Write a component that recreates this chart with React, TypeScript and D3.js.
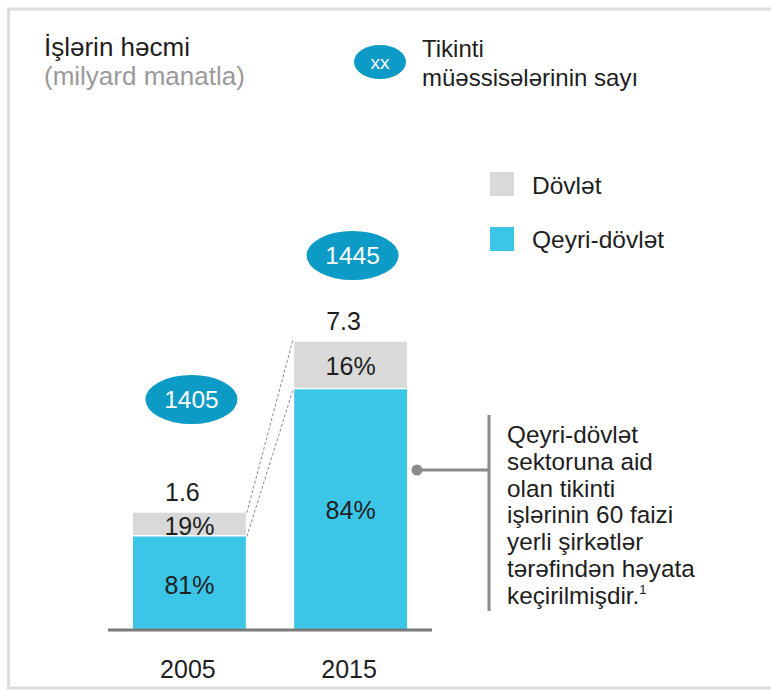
import React from "react";
import * as d3 from "d3";

const years = ["2005", "2015"];
const totals = [1.6, 7.3];
const stateShare = [19, 16];
const privateShare = [81, 84];
const companies = [1405, 1445];
const legendLabels = ["Dövlət", "Qeyri-dövlət"];
const noteLines = [
  "Qeyri-dövlət",
  "sektoruna aid",
  "olan tikinti",
  "işlərinin 60 faizi",
  "yerli şirkətlər",
  "tərəfindən həyata",
  "keçirilmişdir.",
];

const W = 771;
const H = 691;
const FONT = "'Liberation Sans', Arial, sans-serif";
const BLUE = "#3bc6e8";
const GRAY = "#d9d9d9";
const OVAL = "#0c9ac6";
const TEXT = "#1e1e1e";

export default function App() {
  const baseY = 630;
  const x = d3.scaleBand<string>().domain(years).range([133, 407]).paddingInner(0.3).paddingOuter(0);
  const y = d3.scalePow().exponent(0.5925).domain([0, 7.3]).range([baseY, 341.7]);
  const gap = 1.5;

  const bars = years.map((yr, i) => {
    const x0 = x(yr)!;
    const bw = x.bandwidth();
    const top = y(totals[i]);
    const h = baseY - top;
    const stateH = (h * stateShare[i]) / 100;
    const split = top + stateH;
    return { yr, i, x0, bw, top, split, cx: x0 + bw / 2 };
  });

  const ovalY = [399.5, 255.5];
  const stateLabelY = [535, 375];
  const privLabelY = [594, 519];

  return (
    <svg
      width={W}
      height={H}
      style={{ position: "absolute", left: 0, top: 0, display: "block", background: "#fff" }}
      fontFamily={FONT}
    >
      {/* frame */}
      <path d={`M${W},9 L8.5,9 L8.5,688 L${W},688`} fill="none" stroke="#dcdcdc" strokeWidth={3} />

      {/* title */}
      <text x={44} y={56} fontSize={26} fill={TEXT}>İşlərin həcmi</text>
      <text x={44} y={85} fontSize={26} fill="#9a9a9a">(milyard manatla)</text>

      {/* oval legend */}
      <ellipse cx={380} cy={62} rx={26} ry={17} fill={OVAL} />
      <text x={380} y={69} fontSize={19} fill="#fff" textAnchor="middle">xx</text>
      <text x={422} y={57} fontSize={24} fill={TEXT}>Tikinti</text>
      <text x={422} y={86} fontSize={24} fill={TEXT}>müəssisələrinin sayı</text>

      {/* legend */}
      {legendLabels.map((l, i) => (
        <g key={l}>
          <rect x={490} y={172 + i * 55} width={24} height={24} fill={i === 0 ? GRAY : BLUE} />
          <text x={532} y={194 + i * 54} fontSize={24.5} fill={TEXT}>{l}</text>
        </g>
      ))}

      {/* connectors */}
      {bars.length === 2 && (
        <g stroke="#8a8a8a" strokeWidth={1} strokeDasharray="3,2" fill="none">
          <line x1={bars[0].x0 + bars[0].bw + 1} y1={bars[0].top} x2={bars[1].x0 - 1} y2={bars[1].top - 3} />
          <line x1={bars[0].x0 + bars[0].bw + 1} y1={bars[0].split + gap} x2={bars[1].x0 - 1} y2={bars[1].split + gap} />
        </g>
      )}

      {/* bars */}
      {bars.map((b) => (
        <g key={b.yr}>
          <rect x={b.x0} y={b.top} width={b.bw} height={b.split - b.top} fill={GRAY} />
          <rect x={b.x0} y={b.split + gap} width={b.bw} height={baseY - b.split - gap} fill={BLUE} />
          <text x={b.cx} y={stateLabelY[b.i]} fontSize={25} fill={TEXT} textAnchor="middle">
            {stateShare[b.i]}%
          </text>
          <text x={b.cx} y={privLabelY[b.i]} fontSize={25} fill={TEXT} textAnchor="middle">
            {privateShare[b.i]}%
          </text>
          <text x={b.cx - 7} y={b.top - 12} fontSize={25} fill={TEXT} textAnchor="middle">
            {totals[b.i].toFixed(1)}
          </text>
          <ellipse cx={b.cx + 2} cy={ovalY[b.i]} rx={46} ry={24.5} fill={OVAL} />
          <text x={b.cx + 2} y={ovalY[b.i] + 8.5} fontSize={24.5} fill="#fff" textAnchor="middle">
            {companies[b.i]}
          </text>
          <text x={b.cx - 1.5} y={678} fontSize={25} fill={TEXT} textAnchor="middle">{b.yr}</text>
        </g>
      ))}

      {/* axis */}
      <line x1={108} y1={baseY} x2={432} y2={baseY} stroke="#7a7a7a" strokeWidth={3} />

      {/* annotation */}
      <line x1={489} y1={415} x2={489} y2={611} stroke="#8a8a8a" strokeWidth={3} />
      <line x1={417} y1={470} x2={489} y2={470} stroke="#8a8a8a" strokeWidth={3} />
      <circle cx={417} cy={470} r={5.5} fill="#8a8a8a" />
      {noteLines.map((l, i) => (
        <text key={i} x={507} y={443 + i * 26.8} fontSize={24.3} fill={TEXT}>
          {l}
          {i === noteLines.length - 1 && (
            <tspan fontSize={13} dy={-10}>1</tspan>
          )}
        </text>
      ))}
    </svg>
  );
}
